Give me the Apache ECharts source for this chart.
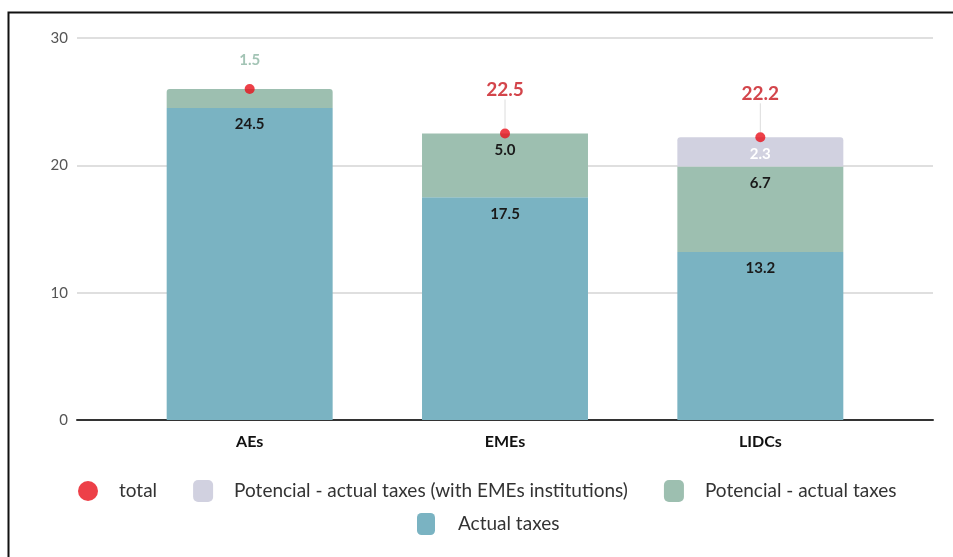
<!DOCTYPE html>
<html><head><meta charset="utf-8">
<script src="https://cdn.jsdelivr.net/npm/echarts@6/dist/echarts.min.js"></script>
<style>html,body{margin:0;padding:0;background:#fff}#c{width:953px;height:557px}</style>
</head><body><div id="c"></div>
<script>
var categories = ['AEs', 'EMEs', 'LIDCs'];
var actualTaxes = [24.5, 17.5, 13.2];
var potentialActual = [1.5, 5.0, 6.7];
var potentialWithInst = [null, null, 2.3];
var totals = [26.0, 22.5, 22.2];
var yTicks = [0, 10, 20, 30];

var FONT = 'Lato, "Open Sans", sans-serif';
var chart = echarts.init(document.getElementById('c'), null, {renderer: 'canvas'});

var gridTop = 38, gridBottom = 137;
var yMin = yTicks[0], yMax = yTicks[yTicks.length - 1], yInt = yTicks[1] - yTicks[0];

var option = {
  animation: false,
  backgroundColor: '#fff',
  textStyle: {fontFamily: FONT},
  graphic: [{type: 'rect', left: 6, top: 10, shape: {width: 960, height: 560},
    style: {fill: 'none', stroke: '#111', lineWidth: 2}, silent: true, z: 100}],
  grid: [
    {left: 77, right: 20, top: gridTop, bottom: gridBottom},
    {left: 122, right: 65, top: gridTop, bottom: gridBottom}
  ],
  xAxis: [
    {gridIndex: 0, type: 'value', min: 0, max: 1, axisLabel: {show: false}, splitLine: {show: false},
      axisTick: {show: false}, axisLine: {show: true, lineStyle: {color: '#333', width: 2}}},
    {gridIndex: 1, type: 'category', data: categories, axisLine: {show: false}, axisTick: {show: false},
      axisLabel: {color: '#111', fontSize: 16, fontWeight: 'bold', margin: 14, fontFamily: FONT}}
  ],
  yAxis: [
    {gridIndex: 0, type: 'value', min: yMin, max: yMax, interval: yInt,
      axisLine: {show: false}, axisTick: {show: false},
      axisLabel: {color: '#555', fontSize: 15, margin: 9, fontFamily: FONT},
      splitLine: {lineStyle: {color: '#d4d4d4', width: 1.5}}},
    {gridIndex: 1, type: 'value', min: yMin, max: yMax, interval: yInt, show: false, splitLine: {show: false}}
  ],
  legend: [
    {data: [
      {name: 'total', icon: 'circle'},
      {name: 'Potencial - actual taxes (with EMEs institutions)', icon: 'roundRect'},
      {name: 'Potencial - actual taxes', icon: 'roundRect'}],
     left: 73, top: 475, itemWidth: 20, itemHeight: 22, itemGap: 36,
     textStyle: {fontSize: 19, color: '#333', fontFamily: FONT, padding: [0, 0, 0, 16]}},
    {data: [{name: 'Actual taxes', icon: 'roundRect'}],
     left: 412, top: 508, itemWidth: 18, itemHeight: 22,
     textStyle: {fontSize: 19, color: '#333', fontFamily: FONT, padding: [0, 0, 0, 18]}}
  ],
  series: [
    {name: 'Actual taxes', type: 'bar', stack: 's', xAxisIndex: 1, yAxisIndex: 1, barWidth: '65%',
      data: actualTaxes, itemStyle: {color: '#7AB3C2'},
      label: {show: true, position: 'insideTop', distance: 9, color: '#1a1a1a', fontSize: 15, fontWeight: 'bold',
        fontFamily: FONT, formatter: function (p) { return p.value.toFixed(1); }}},
    {name: 'Potencial - actual taxes', type: 'bar', stack: 's', xAxisIndex: 1, yAxisIndex: 1,
      data: potentialActual.map(function (v, i) {
        if (i === 0) return {value: v, itemStyle: {borderRadius: [3, 3, 0, 0]},
          label: {position: 'top', distance: 21, color: '#A3C4B5'}};
        return v;
      }),
      itemStyle: {color: '#9DBFB0'},
      label: {show: true, position: 'insideTop', distance: 9, color: '#1a1a1a', fontSize: 15, fontWeight: 'bold',
        fontFamily: FONT, formatter: function (p) { return p.value.toFixed(1); }}},
    {name: 'Potencial - actual taxes (with EMEs institutions)', type: 'bar', stack: 's', xAxisIndex: 1, yAxisIndex: 1,
      data: potentialWithInst, itemStyle: {color: '#D1D1E0', borderRadius: [3, 3, 0, 0]},
      label: {show: true, position: 'insideTop', distance: 9, color: '#fff', fontSize: 15, fontWeight: 'bold',
        fontFamily: FONT, formatter: function (p) { return p.value == null ? '' : p.value.toFixed(1); }}},
    {name: 'total', type: 'scatter', xAxisIndex: 1, yAxisIndex: 1, symbolSize: 10, z: 10,
      itemStyle: {color: '#E8101A'},
      data: totals.map(function (v, i) {
        if (i === 0) return {value: v, label: {show: false}, labelLine: {show: false}};
        return v;
      }),
      label: {show: true, position: 'top', distance: 6, color: '#C8161E', fontSize: 19, fontWeight: 'bold',
        fontFamily: FONT, formatter: function (p) { return p.value.toFixed(1); }},
      labelLayout: {dy: -23},
      labelLine: {show: true, lineStyle: {color: '#dcdcdc', width: 1}}}
  ]
};
chart.setOption(option);
</script></body></html>
